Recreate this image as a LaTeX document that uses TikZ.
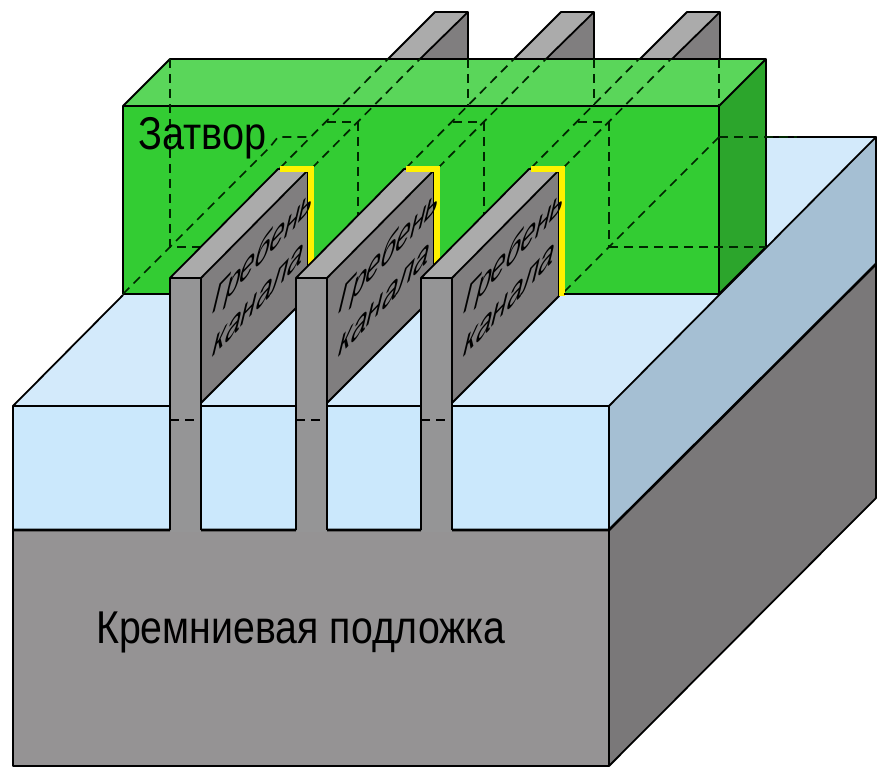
\documentclass[tikz,border=0pt]{standalone}
\usepackage{fontspec}
\setmainfont{Liberation Sans}
\definecolor{oxf}{HTML}{CBE8FC}
\definecolor{oxt}{HTML}{D3EAFB}
\definecolor{oxs}{HTML}{A5BFD3}
\definecolor{subf}{HTML}{959394}
\definecolor{subs}{HTML}{7A7879}
\definecolor{finf}{HTML}{959596}
\definecolor{fint}{HTML}{ABABAB}
\definecolor{fins}{HTML}{807E7F}
\definecolor{gatef}{HTML}{33CC33}
\definecolor{gatet}{HTML}{5AD65A}
\definecolor{gates}{HTML}{2CA52C}
\tikzset{
  edge/.style={draw=black,line width=1.8pt,line join=round},
  heavy/.style={draw=black,line width=2.6pt,line join=round},
  hid/.style={draw=black!85!green,line width=1.7pt,dash pattern=on 9pt off 6pt},
  hidfin/.style={draw=black,line width=1.7pt,dash pattern=on 9pt off 6pt},
  yel/.style={draw=yellow,line width=6pt,line join=miter},
  bigtext/.style={inner sep=0pt,font=\fontsize{46}{50}\selectfont,anchor=base west},
  fintexta/.style={inner sep=0pt,anchor=base west,font=\fontsize{35}{37}\selectfont,text=black,cm={0.76,0.80,0.30,1.25,(0,0)}},
  fintextb/.style={inner sep=0pt,anchor=base west,font=\fontsize{35}{37}\selectfont,text=black,cm={0.80,0.85,0.30,1.25,(0,0)}}
}
\newcommand{\finbody}[1]{%
  \begin{scope}[xshift=#1pt]
    \fill[fins] (201,278) -- (308,171) -- (308,296) -- (201,403) -- cycle;
    \draw[edge] (201,403) -- (308,296) -- (308,171);
    \fill[fint] (170,278) -- (278,169) -- (308,170) -- (201,278) -- cycle;
    \fill[finf] (170,278) rectangle (201,532);
    \draw[edge] (170,530) -- (170,278) -- (278,169) -- (308,170) -- (201,278) -- (170,278);
    \draw[edge] (201,530) -- (201,278);
    \draw[yel] (280,169) -- (311,169) -- (311,296);
  \end{scope}}
\newcommand{\finrear}[1]{%
  \begin{scope}[xshift=#1pt]
    \fill[fint] (388,59) -- (435,12) -- (468,12) -- (420,59) -- cycle;
    \fill[fins] (420,59) -- (468,12) -- (468,59) -- cycle;
    \draw[edge] (388,59) -- (435,12) -- (468,12) -- (468,59);
    \draw[edge] (420,59) -- (468,12);
  \end{scope}}
\newcommand{\finhid}[1]{%
  \begin{scope}[xshift=#1pt]
    \draw[hid] (280,168) -- (388,59);
    \draw[hid] (312,168) -- (420,59);
    \draw[hid] (327,122) -- (358,122);
    \draw[hid] (358,122) -- (358,215);
    \draw[hid] (468,59) -- (468,106);
  \end{scope}}
\begin{document}
\begin{tikzpicture}[x=1pt,y=-1pt]
\useasboundingbox (0,0) rectangle (890,775);
\fill[white] (0,0) rectangle (890,775);
% oxide
\fill[oxt] (13,406) -- (123,295) -- (767,137) -- (876,137) -- (609,406) -- cycle;
\fill[oxt] (123,295) -- (767,137) -- (123,137) -- cycle;
\fill[oxs] (609,406) -- (876,137) -- (876,264) -- (609,530) -- cycle;
\fill[oxf] (13,406) rectangle (609,530);
\draw[edge] (13,530) -- (13,406) -- (609,406) -- (609,530);
\draw[edge] (13,406) -- (123,295);
\draw[edge] (609,406) -- (876,137) -- (876,264);
\draw[edge] (767,137) -- (876,137);
% substrate
\fill[subf] (13,530) rectangle (609,766);
\fill[subs] (609,530) -- (876,264) -- (876,498) -- (609,766) -- cycle;
\draw[edge] (13,530) -- (13,766) -- (609,766) -- (876,498) -- (876,264);
\draw[edge] (609,530) -- (609,766);
\draw[heavy] (13,530) -- (609,530) -- (876,264);
% rear fins
\finrear{0}\finrear{126}\finrear{252}
% gate
\fill[gatet] (123,106) -- (170,59) -- (766,59) -- (719,106) -- cycle;
\fill[gatef] (123,106) rectangle (719,294);
\fill[gates] (719,106) -- (766,59) -- (766,247) -- (719,294) -- cycle;
\draw[edge] (123,294) -- (123,106) -- (170,59) -- (766,59) -- (766,247) -- (719,294) -- cycle;
\draw[edge] (123,106) -- (719,106) -- (719,294);
\draw[edge] (719,106) -- (766,59);
% hidden lines
\draw[hid] (170,59) -- (170,247) -- (205,247);
\draw[hid] (123,294) -- (270,147) -- (278,137) -- (312,137);
\draw[hid] (719,137) -- (797,137);
\draw[hid] (609,247) -- (766,247);
\draw[hid] (719,137) -- (563,293);
\draw[hid] (609,215) -- (609,247);
\draw[hid] (719,59) -- (719,106);
\finhid{0}\finhid{126}\finhid{251}
% fins
\finbody{0}\finbody{126}\finbody{251}
\draw[edge] (564,294) -- (719,294);
\draw[hidfin] (170,420) -- (201,420);
\draw[hidfin] (296,420) -- (327,420);
\draw[hidfin] (421,420) -- (452,420);
% labels
\node[bigtext,xscale=.862] (gatelabel) at (138,150) {Затвор};
\node[bigtext,xscale=.854] (sublabel) at (96,643) {Кремниевая подложка};
\node[fintexta] (fina) at (210,317) {Гребень};
\node[fintextb] (finab) at (210,360) {канала};
\node[fintexta] (finb) at (336,317) {Гребень};
\node[fintextb] (finbb) at (336,360) {канала};
\node[fintexta] (finc) at (461,317) {Гребень};
\node[fintextb] (fincb) at (461,360) {канала};
\end{tikzpicture}
\end{document}
